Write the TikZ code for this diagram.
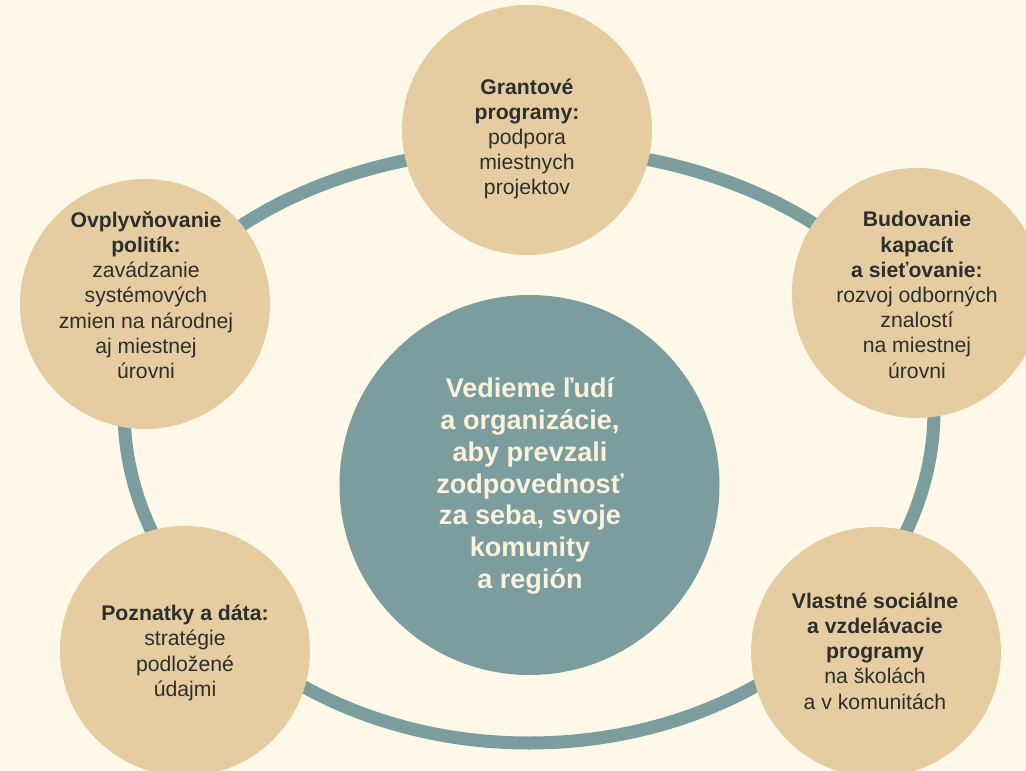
\documentclass[tikz,border=0pt]{standalone}
\usepackage{fontspec}
\setmainfont{Liberation Sans}
\definecolor{bg}{HTML}{FEF8E8}
\definecolor{tan}{HTML}{E6CDA1}
\definecolor{teal}{HTML}{7B9D9D}
\definecolor{ink}{HTML}{2C2F2D}
\definecolor{cream}{HTML}{FBF2DD}
\begin{document}
\begin{tikzpicture}[x=0.75pt,y=-0.75pt,
  petal/.style={circle,fill=tan,draw=none,inner sep=0pt,minimum size=187.5pt},
  hub/.style={circle,fill=teal,draw=none,inner sep=0pt,minimum size=285pt},
  petaltext/.style={align=center,text=ink,inner sep=0pt,font=\fontsize{15.9}{18.9}\selectfont},
  hubtext/.style={align=center,text=cream,inner sep=0pt,font=\bfseries\fontsize{20.3}{23.8}\selectfont},
  ring/.style={draw=teal,line width=9.75pt}]
\fill[bg] (0,0) rectangle (1026,771);
\path[use as bounding box] (0,0) rectangle (1026,771);
% ring
\coordinate (rl) at (124,410);
\draw[ring] (rl) arc[start angle=180,end angle=360,x radius=405,y radius=262]
  arc[start angle=0,end angle=180,x radius=405,y radius=333] -- cycle;
% circles
\node[petal] (g1) at (527,130) {};
\node[petal] (g2) at (145,304) {};
\node[petal] (g3) at (917,293) {};
\node[petal] (g4) at (185,651) {};
\node[petal] (g5) at (876,652) {};
\node[hub] (hub) at (529.5,485) {};
% texts
\node[petaltext] (t1) at (527,139) {\textbf{Grantové}\\\textbf{programy:}\\podpora\\miestnych\\projektov};
\node[petaltext] (t2) at (146,295) {\textbf{Ovplyvňovanie}\\\textbf{politík:}\\zavádzanie\\systémových\\zmien na národnej\\aj miestnej\\úrovni};
\node[petaltext] (t3) at (917,295) {\textbf{Budovanie}\\\textbf{kapacít}\\\textbf{a sieťovanie:}\\rozvoj odborných\\znalostí\\na miestnej\\úrovni};
\node[petaltext] (t4) at (185,653) {\textbf{Poznatky a dáta:}\\stratégie\\podložené\\údajmi};
\node[petaltext] (t5) at (875,651) {\textbf{Vlastné sociálne}\\\textbf{a vzdelávacie}\\\textbf{programy}\\na školách\\a v komunitách};
\node[hubtext] (tc) at (530,486) {Vedieme ľudí\\a organizácie,\\aby prevzali\\zodpovednosť\\za seba, svoje\\komunity\\a región};
\end{tikzpicture}
\end{document}
